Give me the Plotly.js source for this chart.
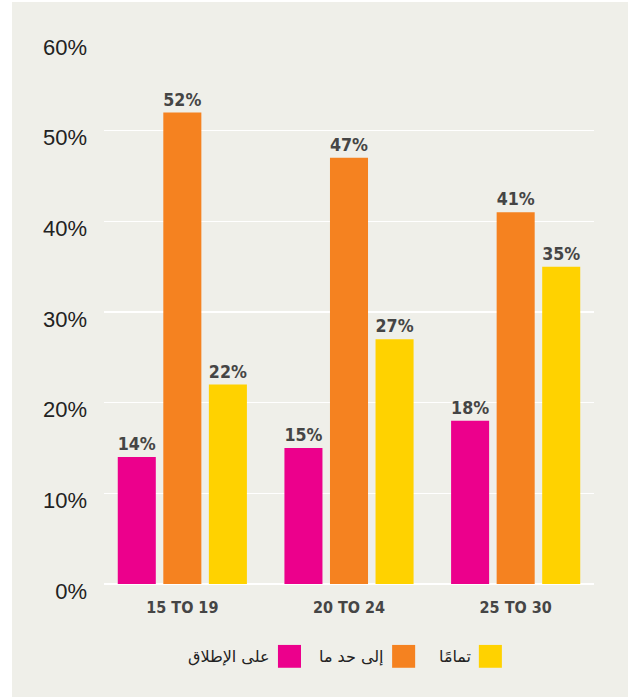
<!DOCTYPE html>
<html>
<head>
<meta charset="utf-8">
<script src="https://cdn.plot.ly/plotly-3.0.1.min.js"></script>
<style>
  html, body { margin: 0; padding: 0; background: #ffffff; }
  #wrap { position: absolute; left: 12px; top: 2px; width: 616px; height: 695px; background: #efefe9; }
  #chart { width: 616px; height: 695px; }
</style>
</head>
<body>
<div id="wrap"><div id="chart"></div></div>
<script>
const categories = ['15 TO 19', '20 TO 24', '25 TO 30'];
const seriesNames = ['على الإطلاق', 'إلى حد ما', 'تمامًا'];
const notAtAll = [14, 15, 18];
const somewhat = [52, 47, 41];
const completely = [22, 27, 35];
const seriesValues = [notAtAll, somewhat, completely];
const seriesColors = ['#ec008c', '#f58220', '#ffd200'];
const yTicks = [0, 10, 20, 30, 40, 50, 60];

const condFamily = '"DejaVu Sans Condensed", "Liberation Sans Narrow", sans-serif';
const labelFont = { family: condFamily, size: 18, color: '#454545', weight: 'bold' };

const traces = seriesValues.map((vals, i) => ({
  type: 'bar',
  x: categories,
  y: vals,
  name: seriesNames[i],
  marker: { color: seriesColors[i] },
  text: vals.map(v => v + '%'),
  textposition: 'outside',
  cliponaxis: false,
  textfont: labelFont,
  hoverinfo: 'none'
}));

// custom right-to-left legend (symbol on right of text)
const legSquares = [[0.355, 0.402], [0.588, 0.635], [0.765, 0.812]];
const shapes = [];
const annotations = [];
seriesNames.forEach((n, i) => {
  shapes.push({ type: 'rect', xref: 'paper', yref: 'paper', x0: legSquares[i][0], x1: legSquares[i][1], y0: -0.154, y1: -0.112, fillcolor: seriesColors[i], line: { width: 0 } });
  annotations.push({ xref: 'paper', yref: 'paper', x: legSquares[i][0] - 0.012, y: -0.133, xanchor: 'right', yanchor: 'middle', text: n, showarrow: false, font: { family: '"DejaVu Sans", "Noto Sans", sans-serif', size: 16, color: '#222222' } });
});

const layout = {
  width: 616,
  height: 695,
  paper_bgcolor: '#efefe9',
  plot_bgcolor: '#efefe9',
  margin: { l: 92, r: 34, t: 38, b: 113 },
  barmode: 'group',
  bargap: 0.18,
  bargroupgap: 0.165,
  showlegend: false,
  xaxis: {
    type: 'category',
    range: [-0.47, 2.47],
    showgrid: false,
    zeroline: false,
    showline: false,
    ticks: '',
    ticklabelstandoff: 12,
    tickfont: { family: condFamily, size: 16, color: '#454545', weight: 'bold' }
  },
  yaxis: {
    range: [0, 60],
    tickvals: yTicks,
    ticktext: yTicks.map(v => v + '%'),
    showgrid: true,
    gridcolor: '#ffffff',
    gridwidth: 1.5,
    zeroline: true,
    zerolinecolor: '#ffffff',
    zerolinewidth: 1.5,
    showline: false,
    ticks: '',
    ticklabelstandoff: 16,
    ticklabelshift: 7,
    tickfont: { family: '"Liberation Sans", Arial, sans-serif', size: 22, color: '#222222' }
  },
  shapes: shapes,
  annotations: annotations
};

Plotly.newPlot('chart', traces, layout, { displayModeBar: false, staticPlot: true });
</script>
</body>
</html>
